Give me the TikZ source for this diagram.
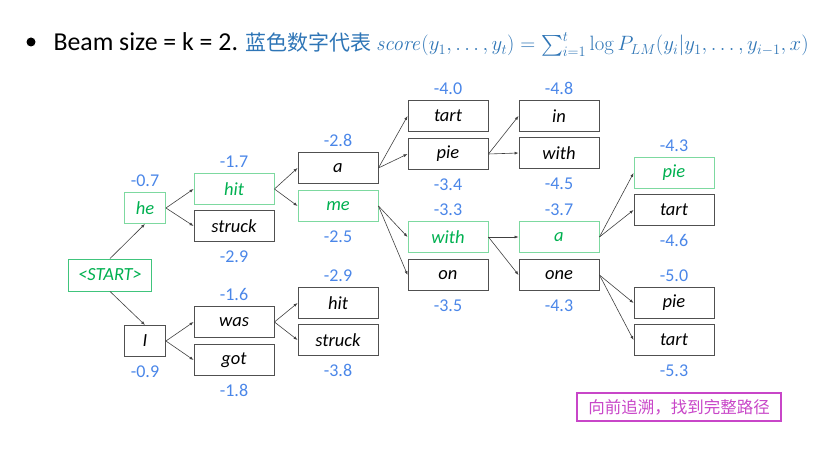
\documentclass[tikz,border=0pt]{standalone}
\usepackage{amsmath}
\usepackage[no-math]{fontspec}
\setmainfont{Carlito}
\newfontfamily\cjk{Noto Sans CJK SC}
\usetikzlibrary{positioning,arrows.meta}
\definecolor{scoreblue}{HTML}{4A86E8}
\definecolor{titleblue}{HTML}{2E75B6}
\definecolor{pathgreen}{HTML}{00B050}
\definecolor{pathedge}{HTML}{7DD9A0}
\definecolor{notemag}{HTML}{C846C8}
\definecolor{boxgray}{HTML}{505050}

\begin{document}
\begin{tikzpicture}[x=1pt, y=-1pt,
  every node/.style={align=center, font=\fontsize{18.5}{20}\selectfont\itshape},
  word/.style={rectangle, draw=boxgray, line width=0.9pt, minimum width=80pt, minimum height=31pt, inner sep=0pt},
  best/.style={word, draw=pathedge, text=pathgreen},
  short/.style={minimum width=41pt},
  score/.style={font=\fontsize{18}{20}\selectfont, text=scoreblue, inner sep=0pt, text height=12pt, text depth=0pt},
  note/.style={rectangle, draw=notemag, line width=1.2pt, text=notemag, minimum width=204pt, minimum height=28pt, font=\cjk\fontsize{16.5}{18}\selectfont},
  arr/.style={-{Latex[length=4pt,width=3pt]}, draw=boxgray!80!black, line width=0.6pt}
]
\useasboundingbox (0,0) rectangle (839,449);
% Title line
\node[circle, fill=black, inner sep=0pt, minimum size=9pt] (dot) at (31,42) {};
\node[anchor=base west, font=\fontsize{25.8}{28}\selectfont] (title) at (50,51) {Beam size = k = 2. \textcolor{titleblue}{{\cjk\fontsize{21}{24}\selectfont 蓝色数字代表}\,{\fontsize{22}{26}\selectfont$\mathit{score}(y_1,\ldots,y_t)=\sum_{i=1}^{t}\log P_{LM}(y_i|y_1,\ldots,y_{i-1},x)$}}};
% Step 0 and 1
\node[best, minimum width=83pt, minimum height=32pt, draw=pathgreen!75] (start) at (110,275) {<START>};
\node[best, short] (he) at (145,208) {he};
\node[word, short] (i) at (145,341) {I};
% Step 2
\node[best] (hit1) at (234,189) {hit};
\node[word] (struck1) at (234,226) {struck};
\node[word] (was) at (234,322) {was};
\node[word] (got) at (234,360) {got};
% Step 3
\node[word] (a1) at (338,168) {a};
\node[best] (me) at (338,206) {me};
\node[word] (hit2) at (338,303) {hit};
\node[word] (struck2) at (338,340) {struck};
% Step 4
\node[word] (tart1) at (448,116) {tart};
\node[word] (pie1) at (448,154) {pie};
\node[best] (with1) at (448,237) {with};
\node[word] (on) at (448,275) {on};
% Step 5
\node[word] (in) at (559,116) {in};
\node[word] (with2) at (559,153) {with};
\node[best] (a2) at (559,237) {a};
\node[word] (one) at (559,275) {one};
% Step 6
\node[best] (pie2) at (674,173) {pie};
\node[word] (tart2) at (674,210) {tart};
\node[word] (pie3) at (674,303) {pie};
\node[word] (tart3) at (674,340) {tart};
% Scores
\node[score, above=5pt of he] (s-he) {-0.7};
\node[score, below=8pt of i] (s-i) {-0.9};
\node[score, above=5pt of hit1] (s-hit1) {-1.7};
\node[score, below=8pt of struck1] (s-struck1) {-2.9};
\node[score, above=5pt of was] (s-was) {-1.6};
\node[score, below=8pt of got] (s-got) {-1.8};
\node[score, above=5pt of a1] (s-a1) {-2.8};
\node[score, below=8pt of me] (s-me) {-2.5};
\node[score, above=5pt of hit2] (s-hit2) {-2.9};
\node[score, below=8pt of struck2] (s-struck2) {-3.8};
\node[score, above=5pt of tart1] (s-tart1) {-4.0};
\node[score, below=8pt of pie1] (s-pie1) {-3.4};
\node[score, above=5pt of with1] (s-with1) {-3.3};
\node[score, below=8pt of on] (s-on) {-3.5};
\node[score, above=5pt of in] (s-in) {-4.8};
\node[score, below=8pt of with2] (s-with2) {-4.5};
\node[score, above=5pt of a2] (s-a2) {-3.7};
\node[score, below=8pt of one] (s-one) {-4.3};
\node[score, above=5pt of pie2] (s-pie2) {-4.3};
\node[score, below=8pt of tart2] (s-tart2) {-4.6};
\node[score, above=5pt of pie3] (s-pie3) {-5.0};
\node[score, below=8pt of tart3] (s-tart3) {-5.3};
% Note
\node[note] (back) at (679,407) {向前追溯，找到完整路径};
% Arrows
\draw[arr] (start.north) -- (he.south);
\draw[arr] (start.south) -- (i.north);
\draw[arr] (he.east) -- (hit1.west);
\draw[arr] (he.east) -- (struck1.west);
\draw[arr] (i.east) -- (was.west);
\draw[arr] (i.east) -- (got.west);
\draw[arr] (hit1.east) -- (a1.west);
\draw[arr] (hit1.east) -- (me.west);
\draw[arr] (was.east) -- (hit2.west);
\draw[arr] (was.east) -- (struck2.west);
\draw[arr] (a1.east) -- (tart1.west);
\draw[arr] (a1.east) -- (pie1.west);
\draw[arr] (me.east) -- (with1.west);
\draw[arr] (me.east) -- (on.west);
\draw[arr] (pie1.east) -- (in.west);
\draw[arr] (pie1.east) -- (with2.west);
\draw[arr] (with1.east) -- (a2.west);
\draw[arr] (with1.east) -- (one.west);
\draw[arr] (a2.east) -- (pie2.west);
\draw[arr] (a2.east) -- (tart2.west);
\draw[arr] (one.east) -- (pie3.west);
\draw[arr] (one.east) -- (tart3.west);
\end{tikzpicture}
\end{document}
